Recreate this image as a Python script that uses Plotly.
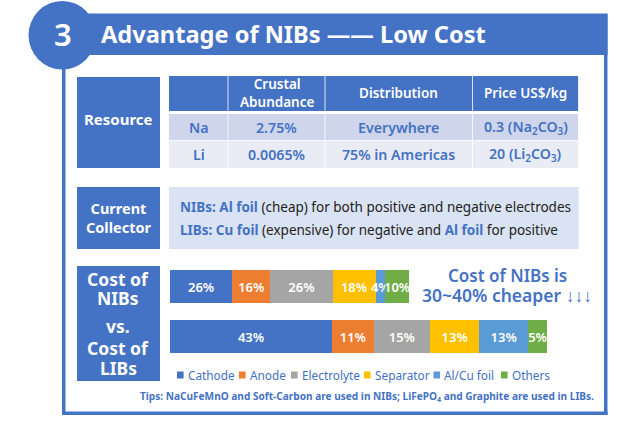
import plotly.graph_objects as go

W, H = 640, 425
BLUE = "#4472C4"
FONT = "Noto Sans"

# ---- data ----
components = ["Cathode", "Anode", "Electrolyte", "Separator", "Al/Cu foil", "Others"]
colors = ["#4472C4", "#ED7D31", "#A5A5A5", "#FFC000", "#5B9BD5", "#70AD47"]
nib_pct = [26, 16, 26, 18, 4, 10]
lib_pct = [43, 11, 15, 13, 13, 5]
nib_relative_cost = 0.634   # NIB bar length relative to the LIB bar
lib_relative_cost = 1.0
batteries = ["NIBs", "LIBs"]

table_header = ["", "Crustal<br>Abundance", "Distribution", "Price US$/kg"]
table_na = ["Na", "2.75%", "Everywhere", "0.3 (Na<sub>2</sub>CO<sub>3</sub>)"]
table_li = ["Li", "0.0065%", "75% in Americas", "20 (Li<sub>2</sub>CO<sub>3</sub>)"]


def px(x):
    return x / W


def py(y):
    return 1 - y / H


shapes = []
annots = []


def rect(x0, y0, x1, y1, fill):
    shapes.append(dict(type="rect", xref="paper", yref="paper", x0=px(x0), x1=px(x1),
                       y0=py(y1), y1=py(y0), fillcolor=fill, line=dict(width=0), layer="below"))


def label(x, y, text, size=14, color=BLUE, anchor="center", weight=600):
    if not text:
        return
    annots.append(dict(xref="paper", yref="paper", x=px(x), y=py(y), text=text, showarrow=False,
                       xanchor=anchor, yanchor="middle", align=anchor,
                       font=dict(family=FONT, size=size, color=color, weight=weight)))


# frame and header
rect(62, 40, 65.5, 415, BLUE)
rect(604, 14, 607.5, 415, BLUE)
rect(62, 411.5, 607.5, 415, BLUE)
rect(60, 13.5, 607.5, 55, BLUE)
shapes.append(dict(type="circle", xref="paper", yref="paper", x0=px(28.5), x1=px(96),
                   y0=py(69.5), y1=py(1), fillcolor=BLUE, line=dict(width=0), layer="below"))
label(62.5, 34, "3", size=31, color="white")
label(99, 34, "Advantage of NIBs —— Low Cost", size=23.6, color="white", anchor="left", weight=700)

# resource section
rect(77, 77, 160, 168, BLUE)
label(118.5, 119, "Resource", size=15, color="white", weight=700)
col_edges = [169, 228, 325, 472.5, 578.5]
row_edges = [(76, 111, BLUE), (114, 140, "#CFD5EA"), (140.7, 168, "#E9EBF5")]
row_text = [table_header, table_na, table_li]
for (y0, y1, fill), cells in zip(row_edges, row_text):
    for i, cell in enumerate(cells):
        rect(col_edges[i] + (0.4 if i else 0), y0, col_edges[i + 1] - 0.4, y1, fill)
        col = "white" if fill == BLUE else BLUE
        size = 13.5 if fill == BLUE else 14.2
        label((col_edges[i] + col_edges[i + 1]) / 2, (y0 + y1) / 2, cell, size=size, color=col, weight=600)

# current collector section
rect(77, 187, 160, 249, BLUE)
label(118.5, 217.5, "Current<br>Collector", size=14.5, color="white", weight=700)
rect(169, 187, 578.5, 249, "#DAE3F3")


def bl(t):
    return f'<span style="color:{BLUE}"><b>{t}</b></span>'


label(178, 207, bl("NIBs: Al foil") + " (cheap) for both positive and negative electrodes",
      size=13.5, color="#222222", anchor="left", weight=400)
label(178, 230, bl("LIBs: Cu foil") + " (expensive) for negative and " + bl("Al foil") + " for positive",
      size=13.5, color="#222222", anchor="left", weight=400)

# cost section
rect(77, 266, 160, 381, BLUE)
for y, t in [(279, "Cost of"), (298, "NIBs"), (326, "vs."), (348, "Cost of"), (368, "LIBs")]:
    label(118, y, t, size=17.5, color="white", weight=700)
label(507, 275, "Cost of NIBs is", size=17, weight=600)
label(507, 295, "30~40% cheaper ↓↓↓", size=17.5, weight=600)
label(366.5, 396.5, "Tips: NaCuFeMnO and Soft-Carbon are used in NIBs; LiFePO<sub>4</sub> and Graphite are used in LIBs.",
      size=10.1, weight=700)

# legend row
legend_swatch_x = [177, 239, 291, 364, 433.5, 501]
for name, col, x in zip(components, colors, legend_swatch_x):
    rect(x, 371.5, x + 6.6, 378.5, col)
    label(x + 8.5, 375, name, size=11.8, anchor="left", weight=400)

fig = go.Figure()
for i, name in enumerate(components):
    fig.add_trace(go.Bar(
        y=batteries,
        x=[nib_pct[i] * nib_relative_cost, lib_pct[i] * lib_relative_cost],
        text=[f"{nib_pct[i]}%", f"{lib_pct[i]}%"],
        name=name, orientation="h", marker=dict(color=colors[i], line=dict(width=0)),
        textposition="inside", insidetextanchor="middle", textangle=0, constraintext="none",
        cliponaxis=False, hoverinfo="skip",
        textfont=dict(family=FONT, size=13, color="white", weight=600),
    ))

fig.update_layout(
    width=W, height=H, margin=dict(l=0, r=0, t=0, b=0, autoexpand=False),
    paper_bgcolor="white", plot_bgcolor="rgba(0,0,0,0)",
    barmode="stack", bargap=1 - 33.3 / 50, shapes=shapes, annotations=annots,
    xaxis=dict(domain=[px(170), px(547)], range=[0, 100], visible=False),
    yaxis=dict(domain=[py(361.7), py(261.7)], autorange="reversed", visible=False),
    showlegend=False,
)
fig.write_html("out.html", config=dict(displayModeBar=False),
               post_script="document.body.style.margin='0';")
